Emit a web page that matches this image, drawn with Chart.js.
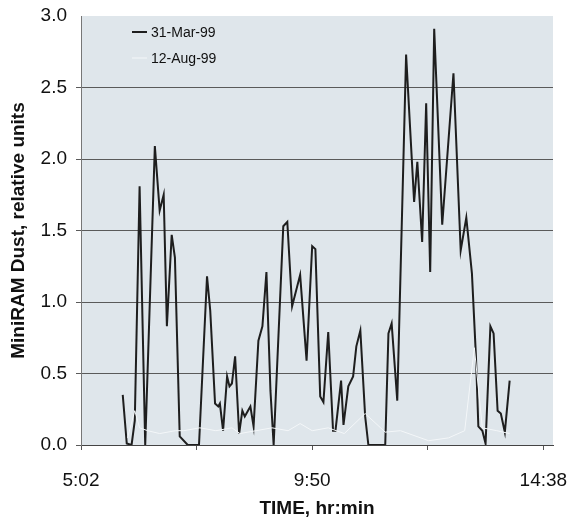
<!DOCTYPE html>
<html>
<head>
<meta charset="utf-8">
<script src="https://cdn.jsdelivr.net/npm/chart.js@4/dist/chart.umd.min.js"></script>
<style>
  html, body { margin: 0; padding: 0; background: #fff; }
  #wrap { width: 569px; height: 525px; }
</style>
</head>
<body>
<div id="wrap"><canvas id="grafico" width="569" height="525"></canvas></div>
<script>
// MiniRAM readings, 31-Mar-99
const tiemposMar = ['5:54','5:59','6:05','6:09','6:15','6:22','6:34','6:40','6:45','6:49','6:55','6:59','7:05','7:15','7:29','7:39','7:43','7:49','7:53','7:55','7:59','8:04','8:07','8:10','8:14','8:19','8:23','8:26','8:30','8:33','8:37','8:43','8:48','8:53','8:58','9:02','9:14','9:19','9:25','9:35','9:43','9:50','9:54','10:00','10:04','10:10','10:16','10:19','10:26','10:29','10:35','10:41','10:45','10:50','10:56','11:00','11:21','11:25','11:29','11:36','11:47','11:57','12:01','12:07','12:12','12:17','12:22','12:32','12:46','12:55','13:02','13:09','13:14','13:17','13:22','13:26','13:32','13:36','13:41','13:45','13:50','13:56'];
const valoresMar = [0.35,0.01,0.0,0.17,1.81,0.0,2.09,1.64,1.75,0.83,1.47,1.31,0.06,0.0,0.0,1.18,0.94,0.29,0.27,0.29,0.10,0.48,0.41,0.43,0.62,0.08,0.24,0.20,0.24,0.27,0.13,0.73,0.83,1.21,0.38,0.0,1.53,1.56,0.97,1.19,0.59,1.39,1.37,0.34,0.30,0.79,0.10,0.10,0.45,0.14,0.41,0.48,0.69,0.80,0.20,0.0,0.0,0.78,0.85,0.31,2.73,1.70,1.98,1.42,2.39,1.21,2.91,1.54,2.60,1.36,1.59,1.20,0.62,0.13,0.10,0.01,0.83,0.78,0.24,0.22,0.09,0.45];

// MiniRAM readings, 12-Aug-99
const tiemposAgo = ['6:00','6:09','6:15','6:25','6:40','7:00','7:10','7:30','7:50','8:10','8:20','8:40','9:00','9:20','9:35','9:50','10:10','10:30','10:56','11:21','11:40','12:15','12:40','13:00','13:12','13:22','13:40','13:56'];
const valoresAgo = [0.05,0.24,0.12,0.10,0.08,0.10,0.10,0.12,0.10,0.12,0.08,0.10,0.12,0.10,0.15,0.10,0.12,0.08,0.22,0.09,0.10,0.03,0.05,0.10,0.68,0.12,0.10,0.08];

const series = ['31-Mar-99', '12-Aug-99'];
const marcasX = ['5:02', '7:26', '9:50', '12:14', '14:38'];
const etiquetasX = ['5:02', '9:50', '14:38'];
const marcasY = [0, 0.5, 1.0, 1.5, 2.0, 2.5, 3.0];

// "h:mm" -> minutos desde medianoche
const aMinutos = (t) => {
  const [h, m] = t.split(':').map(Number);
  return h * 60 + m;
};
const aTexto = (min) => Math.floor(min / 60) + ':' + String(min % 60).padStart(2, '0');

const puntos = (tiempos, valores) => tiempos.map((t, i) => ({ x: aMinutos(t), y: valores[i] }));

// fondo gris azulado del area de trazado
const fondoArea = {
  id: 'fondoArea',
  beforeDraw(chart) {
    const { ctx, chartArea: a } = chart;
    ctx.save();
    ctx.fillStyle = '#dfe6eb';
    ctx.fillRect(a.left, a.top, a.right - a.left, a.bottom - a.top);
    ctx.restore();
  },
};

// leyenda dentro del area, arriba a la izquierda
const leyenda = {
  id: 'leyenda',
  afterDatasetsDraw(chart) {
    const { ctx, chartArea: a } = chart;
    ctx.save();
    ctx.font = '14px "Liberation Sans", Arial, sans-serif';
    ctx.textBaseline = 'middle';
    chart.data.datasets.forEach((ds, i) => {
      const y = a.top + 16 + i * 26;
      const x = a.left + 51;
      ctx.strokeStyle = ds.borderColor;
      ctx.lineWidth = ds.borderWidth;
      ctx.beginPath();
      ctx.moveTo(x, y);
      ctx.lineTo(x + 15, y);
      ctx.stroke();
      ctx.fillStyle = '#111';
      ctx.fillText(ds.label, x + 19, y + 1);
    });
    ctx.restore();
  },
};

const fuenteTicks = { family: '"Liberation Sans", Arial, sans-serif', size: 19 };
const fuenteTitulo = { family: '"Liberation Sans", Arial, sans-serif', size: 19, weight: 'bold' };

const ctx = document.getElementById('grafico').getContext('2d');
new Chart(ctx, {
  type: 'line',
  data: {
    datasets: [
      {
        label: series[0],
        data: puntos(tiemposMar, valoresMar),
        borderColor: '#1e1e1e',
        borderWidth: 2,
        pointRadius: 0,
        tension: 0,
        order: 1,
      },
      {
        label: series[1],
        data: puntos(tiemposAgo, valoresAgo),
        borderColor: '#f4f7f9',
        borderWidth: 1,
        pointRadius: 0,
        tension: 0,
        order: 0,
      },
    ],
  },
  options: {
    responsive: false,
    animation: false,
    layout: { padding: { top: 16, right: 16, bottom: 0, left: 0 } },
    plugins: {
      legend: { display: false },
      tooltip: { enabled: false },
    },
    scales: {
      x: {
        type: 'linear',
        min: aMinutos('5:02'),
        max: aMinutos('14:50'),
        afterBuildTicks: (scale) => {
          scale.ticks = marcasX.map((t) => ({ value: aMinutos(t) }));
        },
        afterFit: (scale) => {
          scale.height = 80;
          scale.paddingLeft = 0;
          scale.paddingRight = 0;
        },
        ticks: {
          autoSkip: false,
          maxRotation: 0,
          padding: 19,
          color: '#111',
          font: fuenteTicks,
          callback: (v) => (etiquetasX.includes(aTexto(v)) ? aTexto(v) : ''),
        },
        grid: {
          drawOnChartArea: false,
          tickLength: 5,
          color: '#555',
        },
        border: { color: '#444', width: 1 },
        title: {
          display: true,
          text: 'TIME, hr:min',
          color: '#111',
          font: fuenteTitulo,
          padding: { top: 0, bottom: 5 },
        },
      },
      y: {
        min: 0,
        max: 3,
        afterBuildTicks: (scale) => {
          scale.ticks = marcasY.map((v) => ({ value: v }));
        },
        afterFit: (scale) => {
          scale.width = 81;
          scale.paddingTop = 0;
          scale.paddingBottom = 0;
        },
        ticks: {
          padding: 9,
          color: '#111',
          font: fuenteTicks,
          callback: (v) => Number(v).toFixed(1),
        },
        grid: {
          tickLength: 5,
          lineWidth: 1,
          color: (c) => (c.tick && c.tick.value === 3 ? 'rgba(0,0,0,0)' : '#5a5a5a'),
        },
        border: { color: '#777', width: 1 },
        title: {
          display: true,
          text: 'MiniRAM Dust, relative units',
          color: '#111',
          font: fuenteTitulo,
          padding: { top: 7, bottom: 0 },
        },
      },
    },
  },
  plugins: [fondoArea, leyenda],
});
</script>
</body>
</html>
